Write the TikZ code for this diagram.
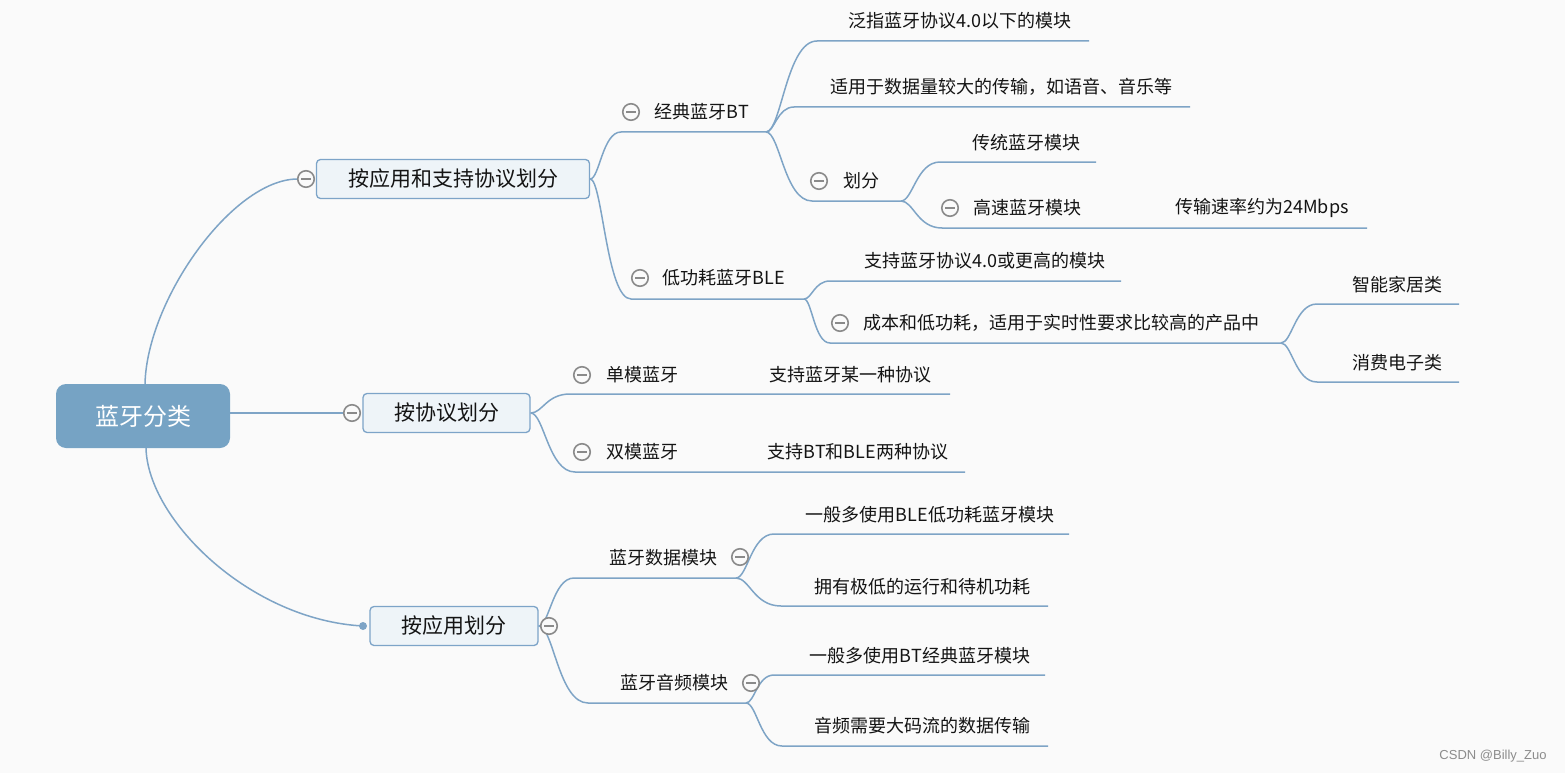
\documentclass[tikz,border=0pt]{standalone}
\usepackage{fontspec}
\setmainfont{Noto Sans CJK SC}
\newfontfamily\wmfont{Liberation Sans}
\usetikzlibrary{calc}
\definecolor{bgc}{RGB}{250,250,250}
\definecolor{lnc}{RGB}{126,164,198}
\definecolor{rootc}{RGB}{118,163,196}
\definecolor{boxf}{RGB}{238,244,248}
\definecolor{boxd}{RGB}{125,164,200}
\definecolor{circc}{RGB}{138,138,138}
\definecolor{txtc}{RGB}{20,20,20}
\begin{document}
\begin{tikzpicture}[x=1pt,y=-1pt,
  conn/.style={draw=lnc, line width=1.5pt},
  xcurve/.style={to path={.. controls ($(\tikztostart)!0.3!(\tikztotarget |- \tikztostart)$) and ($(\tikztotarget)!0.6!(\tikztostart |- \tikztotarget)$) .. (\tikztotarget)}},
  leaf/.style={inner sep=0pt, anchor=center, text=txtc, font=\fontsize{18}{21}\selectfont},
  branch/.style={draw=boxd, fill=boxf, line width=1.3pt, rounded corners=4pt, minimum height=39pt, inner sep=0pt, text=txtc, font=\fontsize{21}{24}\selectfont},
  rootbox/.style={fill=rootc, rounded corners=10pt, minimum width=174pt, minimum height=64pt, inner sep=0pt, text=white, font=\fontsize{24}{28}\selectfont},
  minusc/.style={circle, draw=circc, fill=bgc, line width=1.6pt, minimum size=16.5pt, inner sep=0pt,
    path picture={\draw[circc, line width=2pt] ([xshift=-5pt]path picture bounding box.center) -- ([xshift=5pt]path picture bounding box.center);}},
  dotc/.style={circle, fill=lnc, minimum size=8pt, inner sep=0pt},
  wm/.style={inner sep=0pt, text=black!45, font=\wmfont\fontsize{13}{15}\selectfont}
]
\fill[bgc] (0,0) rectangle (1565,773);
\useasboundingbox (0,0) rectangle (1565,773);

% ---------- main nodes ----------
\node[rootbox] (root) at (143,416) {蓝牙分类};
\node[branch, minimum width=273pt] (b1) at (453,179) {按应用和支持协议划分};
\node[branch, minimum width=167pt] (b2) at (446.5,413) {按协议划分};
\node[branch, minimum width=168pt] (b3) at (454,626) {按应用划分};

% ---------- underline coordinates ----------
\coordinate (u11s) at (621,132);   \coordinate (u11e) at (766,132);
\coordinate (u111s) at (817,41);   \coordinate (u111e) at (1089,41);
\coordinate (u112s) at (794,107);  \coordinate (u112e) at (1190,107);
\coordinate (u113s) at (812,201);  \coordinate (u113e) at (901,201);
\coordinate (u1131s) at (940,162); \coordinate (u1131e) at (1096,162);
\coordinate (u1132s) at (942,228); \coordinate (u1132e) at (1112,228);
\coordinate (u11321e) at (1367,228);
\coordinate (u12s) at (631,299);   \coordinate (u12e) at (804,299);
\coordinate (u121s) at (830,281);  \coordinate (u121e) at (1121,281);
\coordinate (u122s) at (830,343);  \coordinate (u122e) at (1281,343);
\coordinate (u1221s) at (1317,304); \coordinate (u1221e) at (1459,304);
\coordinate (u1222s) at (1317,382); \coordinate (u1222e) at (1459,382);
\coordinate (u21s) at (570,394);   \coordinate (u21e) at (693,394);
\coordinate (u211e) at (950,394);
\coordinate (u22s) at (575,472);   \coordinate (u22e) at (693,472);
\coordinate (u221e) at (965,472);
\coordinate (u31s) at (574,578);   \coordinate (u31e) at (736,578);
\coordinate (u311s) at (774,534);  \coordinate (u311e) at (1069,534);
\coordinate (u312s) at (781,606);  \coordinate (u312e) at (1048,606);
\coordinate (u32s) at (588,703);   \coordinate (u32e) at (746,703);
\coordinate (u321s) at (774,675);  \coordinate (u321e) at (1045,675);
\coordinate (u322s) at (782,746);  \coordinate (u322e) at (1048,746);

% ---------- connectors ----------
\node[minusc] (c1) at (306,179) {};
\node[minusc] (c2) at (352,413) {};
\node[dotc] (d3) at (363,626) {};
\draw[conn] ([xshift=2pt]root.north) .. controls (147,300) and (232,180) .. (c1.west);
\draw[conn] (root.east |- c2.west) -- (c2.west);
\draw[conn] ([xshift=3pt]root.south) .. controls (148,520) and (250,620) .. (d3.center);

\draw[conn] (b1.east) to[xcurve] (u11s) -- (u11e);
\draw[conn] (u11e) to[xcurve] (u111s) -- (u111e);
\draw[conn] (u11e) to[xcurve] (u112s) -- (u112e);
\draw[conn] (u11e) to[xcurve] (u113s) -- (u113e);
\draw[conn] (u113e) to[xcurve] (u1131s) -- (u1131e);
\draw[conn] (u113e) to[xcurve] (u1132s) -- (u1132e) -- (u11321e);
\draw[conn] (b1.east) to[xcurve] (u12s) -- (u12e);
\draw[conn] (u12e) to[xcurve] (u121s) -- (u121e);
\draw[conn] (u12e) to[xcurve] (u122s) -- (u122e);
\draw[conn] (u122e) to[xcurve] (u1221s) -- (u1221e);
\draw[conn] (u122e) to[xcurve] (u1222s) -- (u1222e);

\draw[conn] (b2.east) to[xcurve] (u21s) -- (u21e) -- (u211e);
\draw[conn] (b2.east) to[xcurve] (u22s) -- (u22e) -- (u221e);

\draw[conn] (b3.east) to[xcurve] (u31s) -- (u31e);
\draw[conn] (u31e) to[xcurve] (u311s) -- (u311e);
\draw[conn] (u31e) to[xcurve] (u312s) -- (u312e);
\draw[conn] (b3.east) to[xcurve] (u32s) -- (u32e);
\draw[conn] (u32e) to[xcurve] (u321s) -- (u321e);
\draw[conn] (u32e) to[xcurve] (u322s) -- (u322e);

\node[minusc] (c3) at (549,626) {};

% ---------- topic texts ----------
\node[minusc] (c11) at (631,112) {};
\node[leaf] (t11) at (702,112) {经典蓝牙BT};
\node[leaf] (t111) at (960,21) {泛指蓝牙协议4.0以下的模块};
\node[leaf] (t112) at (1001,87) {适用于数据量较大的传输，如语音、音乐等};
\node[minusc] (c113) at (819,181) {};
\node[leaf] (t113) at (861,181) {划分};
\node[leaf] (t1131) at (1026,143) {传统蓝牙模块};
\node[minusc] (c1132) at (950,208) {};
\node[leaf] (t1132) at (1027,208) {高速蓝牙模块};
\node[leaf] (t11321) at (1262,208) {传输速率约为24Mbps};
\node[minusc] (c12) at (640,278) {};
\node[leaf] (t12) at (724,278) {低功耗蓝牙BLE};
\node[leaf] (t121) at (985,261) {支持蓝牙协议4.0或更高的模块};
\node[minusc] (c122) at (840,323) {};
\node[leaf] (t122) at (1061,323) {成本和低功耗，适用于实时性要求比较高的产品中};
\node[leaf] (t1221) at (1397,285) {智能家居类};
\node[leaf] (t1222) at (1397,363) {消费电子类};

\node[minusc] (c21) at (582,375) {};
\node[leaf] (t21) at (642,375) {单模蓝牙};
\node[leaf] (t211) at (850,375) {支持蓝牙某一种协议};
\node[minusc] (c22) at (582,452) {};
\node[leaf] (t22) at (642,452) {双模蓝牙};
\node[leaf] (t221) at (858,452) {支持BT和BLE两种协议};

\node[leaf] (t31) at (663,558) {蓝牙数据模块};
\node[minusc] (c31) at (740,557) {};
\node[leaf] (t311) at (930,515) {一般多使用BLE低功耗蓝牙模块};
\node[leaf] (t312) at (922,587) {拥有极低的运行和待机功耗};
\node[leaf] (t32) at (674,683) {蓝牙音频模块};
\node[minusc] (c32) at (751,683) {};
\node[leaf] (t321) at (920,656) {一般多使用BT经典蓝牙模块};
\node[leaf] (t322) at (922,726) {音频需要大码流的数据传输};

\node[wm] (wmk) at (1493,756) {CSDN @Billy\_Zuo};
\end{tikzpicture}
\end{document}
